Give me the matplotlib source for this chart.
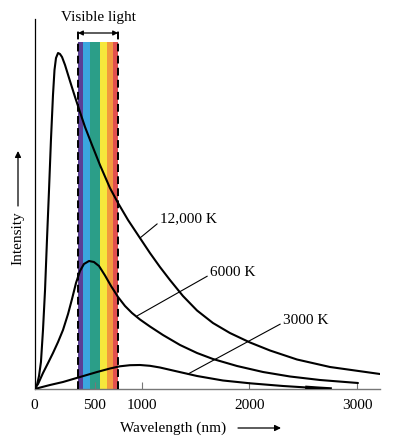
import matplotlib
matplotlib.use("Agg")
import matplotlib.pyplot as plt
import numpy as np

plt.rcParams['font.family'] = ['Liberation Serif', 'DejaVu Serif']

# Data (wavelength in nm, intensity in arbitrary units)
wl_12000 = [0, 23, 42, 60, 79, 98, 116, 135, 153, 172, 186, 200, 219, 237, 256, 284, 330,
            377, 423, 470, 535, 609, 702, 777, 870, 981, 1074, 1167, 1260, 1381, 1512,
            1660, 1818, 2005, 2191, 2442, 2749, 3214]
in_12000 = [0, 4, 13, 27, 59, 99, 149, 199, 249, 294, 319, 331, 336, 335, 332, 324, 308,
            292, 277, 262, 244, 224, 201, 186, 169, 151, 136, 122, 109, 93, 78.5,
            66, 56, 46.5, 38.5, 29.5, 22, 15]

wl_6000 = [0, 33, 79, 126, 172, 219, 265, 312, 349, 386, 423, 460, 507, 553, 600, 656,
           712, 777, 842, 907, 981, 1074, 1195, 1354, 1512, 1660, 1884, 2126, 2377, 2656,
           3009]
in_6000 = [0, 5, 16, 26, 36, 47, 59, 75, 90, 106, 118, 125, 128, 127, 123, 113.5,
           103, 92, 83, 76, 69.5, 62.5, 54, 44, 36, 30, 23, 17, 12.5, 9,
           6]

wl_3000 = [0, 144, 265, 423, 582, 702, 795, 888, 981, 1074, 1167, 1288, 1512, 1753, 2005,
           2312, 2535, 2628, 2749]
in_3000 = [0, 4, 7, 12, 17, 20.5, 22.7, 23.8, 24, 23.2, 21.5, 18.5, 13, 8.5, 5.7,
           3, 1.5, 0.8, 0]

curve_labels = ["12,000 K", "6000 K", "3000 K"]

# Visible band
band_edges = [405, 451, 516, 609, 674, 730, 777]
band_colors = ["#5b3f95", "#3ba7df", "#2b9e88", "#f6e83c", "#f29a3e", "#e2504e"]
band_top = 347

tick_values = [0, 560, 1000, 2000, 3000]
tick_labels = ["0", "500", "1000", "2000", "3000"]

fig = plt.figure(figsize=(3.94, 4.48), dpi=100)
ax = fig.add_axes([34.5/394, (448-389)/448, (380-34.5)/394, (389-19)/448])

# band
lefts = band_edges[:-1]
widths = np.diff(band_edges)
ax.bar(lefts, [band_top]*len(lefts), width=widths, align='edge', color=band_colors,
       linewidth=0, zorder=1)
for xe in (band_edges[0], band_edges[-1]):
    ax.plot([xe, xe], [0, 358], color='black', lw=1.4, ls=(0, (4, 2.2)), zorder=3)
ax.annotate("", xy=(band_edges[0], 356), xytext=(band_edges[-1], 356),
            arrowprops=dict(arrowstyle='<|-|>', color='black', lw=0.9,
                            mutation_scale=7, shrinkA=0, shrinkB=0), zorder=4)
ax.text((band_edges[0]+band_edges[-1])/2, 371, "Visible light", ha='center', va='center',
        fontsize=11, clip_on=False)

# curves
lw = 1.5
kw = dict(color='black', lw=lw, zorder=5, solid_joinstyle='round', solid_capstyle='round')
ax.plot(wl_12000, in_12000, **kw)
ax.plot(wl_6000, in_6000, **kw)
ax.plot(wl_3000, in_3000, **kw)
ax.plot(wl_3000[-3:], in_3000[-3:], color='black', lw=2.6, zorder=5)

# curve labels with leader lines
label_pts = [(981, 151), (953, 73), (1428, 15)]
label_txt = [(1167, 170), (1633, 117), (2312, 69)]
for lab, p, t in zip(curve_labels, label_pts, label_txt):
    ax.annotate(lab, xy=p, xytext=t, ha='left', va='center', fontsize=11,
                arrowprops=dict(arrowstyle='-', color='black', lw=0.8,
                                shrinkA=0, shrinkB=0, relpos=(0, 0.3)))

ax.set_xlim(0, 3214)
ax.set_ylim(0, 370)
for s in ('top', 'right'):
    ax.spines[s].set_visible(False)
ax.spines['left'].set_color('black')
ax.spines['left'].set_linewidth(0.9)
ax.spines['bottom'].set_color('#777777')
ax.spines['bottom'].set_linewidth(1.0)
ax.set_yticks([])
ax.set_xticks(tick_values)
ax.set_xticklabels(tick_labels, fontsize=11)
ax.tick_params(axis='x', direction='in', length=5, width=0.8, color='#777777', pad=7)

# axis titles with arrows
fig.text(120/394, 20/448, "Wavelength (nm)", ha='left', va='center', fontsize=11)
ax.annotate("", xy=(281, 20), xytext=(238, 20), xycoords='figure pixels',
            textcoords='figure pixels',
            arrowprops=dict(arrowstyle='-|>', color='black', lw=0.9, mutation_scale=9,
                            shrinkA=0, shrinkB=0))
fig.text(18/394, 210/448, "Intensity", ha='center', va='center', rotation=90, fontsize=11)
ax.annotate("", xy=(18, 297), xytext=(18, 242), xycoords='figure pixels',
            textcoords='figure pixels',
            arrowprops=dict(arrowstyle='-|>', color='black', lw=0.9, mutation_scale=9,
                            shrinkA=0, shrinkB=0))

fig.savefig("out.png", dpi=100)
